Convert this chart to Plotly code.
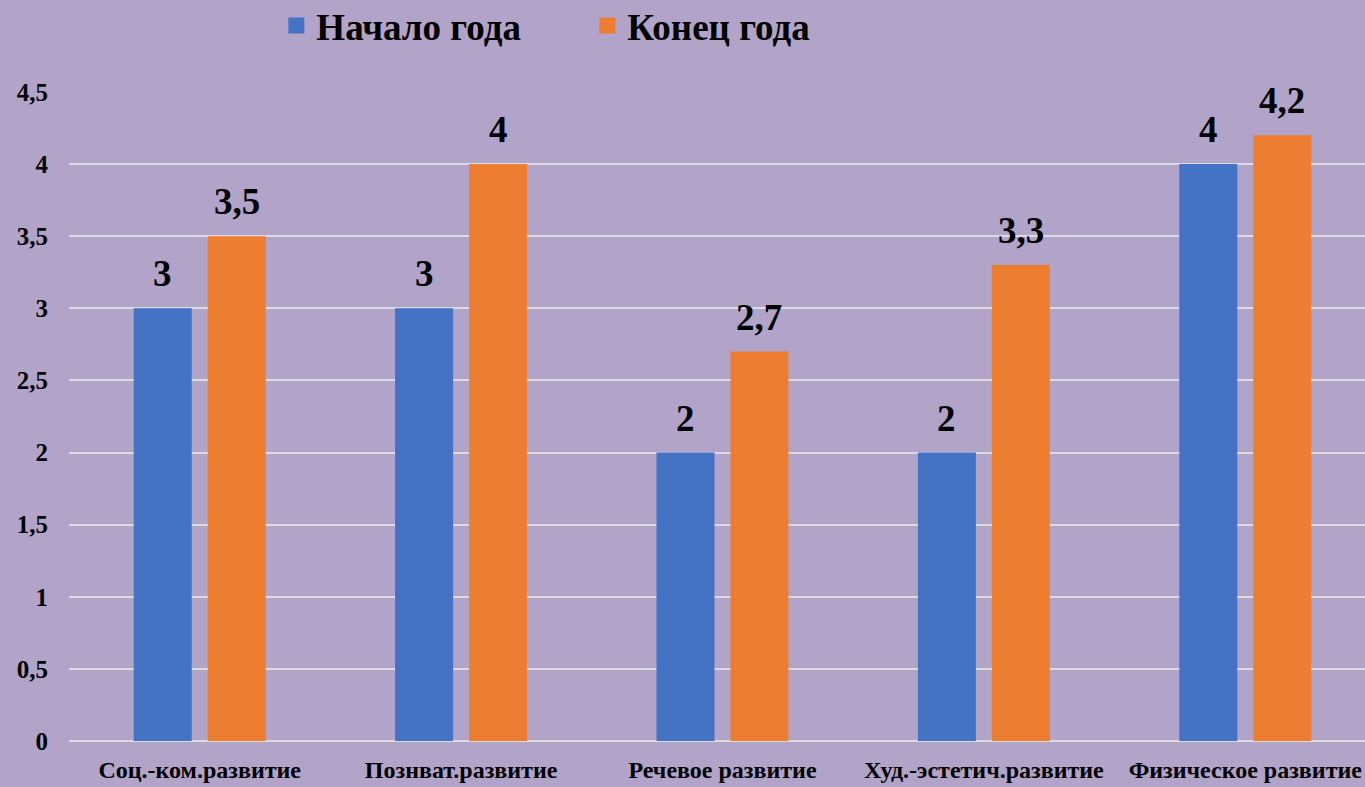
import plotly.graph_objects as go

categories = ["Соц.-ком.развитие", "Познват.развитие", "Речевое развитие",
              "Худ.-эстетич.развитие", "Физическое развитие"]
start_vals = [3, 3, 2, 2, 4]
end_vals = [3.5, 4, 2.7, 3.3, 4.2]
series_names = ["Начало года", "Конец года"]
tick_vals = [0, 0.5, 1, 1.5, 2, 2.5, 3, 3.5, 4, 4.5]

def fmt(v):
    return ("%g" % v).replace(".", ",")

BLUE = "#4472C4"
ORANGE = "#ED7D31"
BG = "#B2A3C9"
GRID = "#DCDCE0"
FONT = "Liberation Serif, Times New Roman, serif"

W, H = 1365, 787
ML, MR, MT, MB = 69, 0, 92, 46
XRANGE = [-0.5, 4.458]
BARGAP = 0.434
plot_w = W - ML - MR
cat_px = plot_w / (XRANGE[1] - XRANGE[0])
slot_px = cat_px * (1 - BARGAP) / 2

fig = go.Figure()
series = [(series_names[0], start_vals, BLUE, -0.5), (series_names[1], end_vals, ORANGE, 0.5)]
for name, vals, col, side in series:
    fig.add_trace(go.Bar(
        x=categories, y=vals, name=name, marker_color=col, marker_line_width=0,
        cliponaxis=False, showlegend=False, legendgroup=name,
    ))
    for c, v in zip(categories, vals):
        fig.add_annotation(
            x=c, y=v, text=fmt(v), showarrow=False,
            xanchor="center", yanchor="bottom",
            xshift=side * slot_px, yshift=12,
            font=dict(family=FONT, size=37, color="black", weight="bold"),
        )

# legend entries with larger square swatches
for name, vals, col, side in series:
    fig.add_trace(go.Scatter(
        x=[None], y=[None], mode="markers", name=name, legendgroup=name,
        marker=dict(symbol="square", size=18, color=col, line=dict(width=0)),
        showlegend=True, hoverinfo="skip",
    ))

fig.update_layout(
    width=W, height=H,
    paper_bgcolor=BG, plot_bgcolor=BG,
    font=dict(family=FONT, color="black", weight="bold"),
    barmode="group", bargap=BARGAP, bargroupgap=0.216,
    margin=dict(l=ML, r=MR, t=MT, b=MB),
    separators=",.",
    showlegend=True,
    legend=dict(orientation="h", x=0.16, xanchor="left", yref="container",
                y=1 - 26 / 787, yanchor="middle", itemsizing="trace",
                font=dict(family=FONT, size=37, color="black", weight="bold"),
                itemwidth=30, entrywidth=266, entrywidthmode="pixels",
                bgcolor="rgba(0,0,0,0)"),
    xaxis=dict(range=XRANGE, showgrid=False, showline=False, ticks="",
               ticklabelstandoff=12,
               tickfont=dict(family=FONT, size=24, color="black", weight="bold")),
    yaxis=dict(range=[0, 4.5], tickvals=tick_vals,
               ticktext=[fmt(v) for v in tick_vals],
               showgrid=True, gridcolor=GRID, gridwidth=2,
               zeroline=True, zerolinecolor=GRID, zerolinewidth=2,
               showline=False, ticks="", ticklabelstandoff=20,
               tickfont=dict(family=FONT, size=25, color="black", weight="bold")),
)

fig.write_html("out.html", config={"displayModeBar": False},
               post_script="document.body.style.margin='0';")
